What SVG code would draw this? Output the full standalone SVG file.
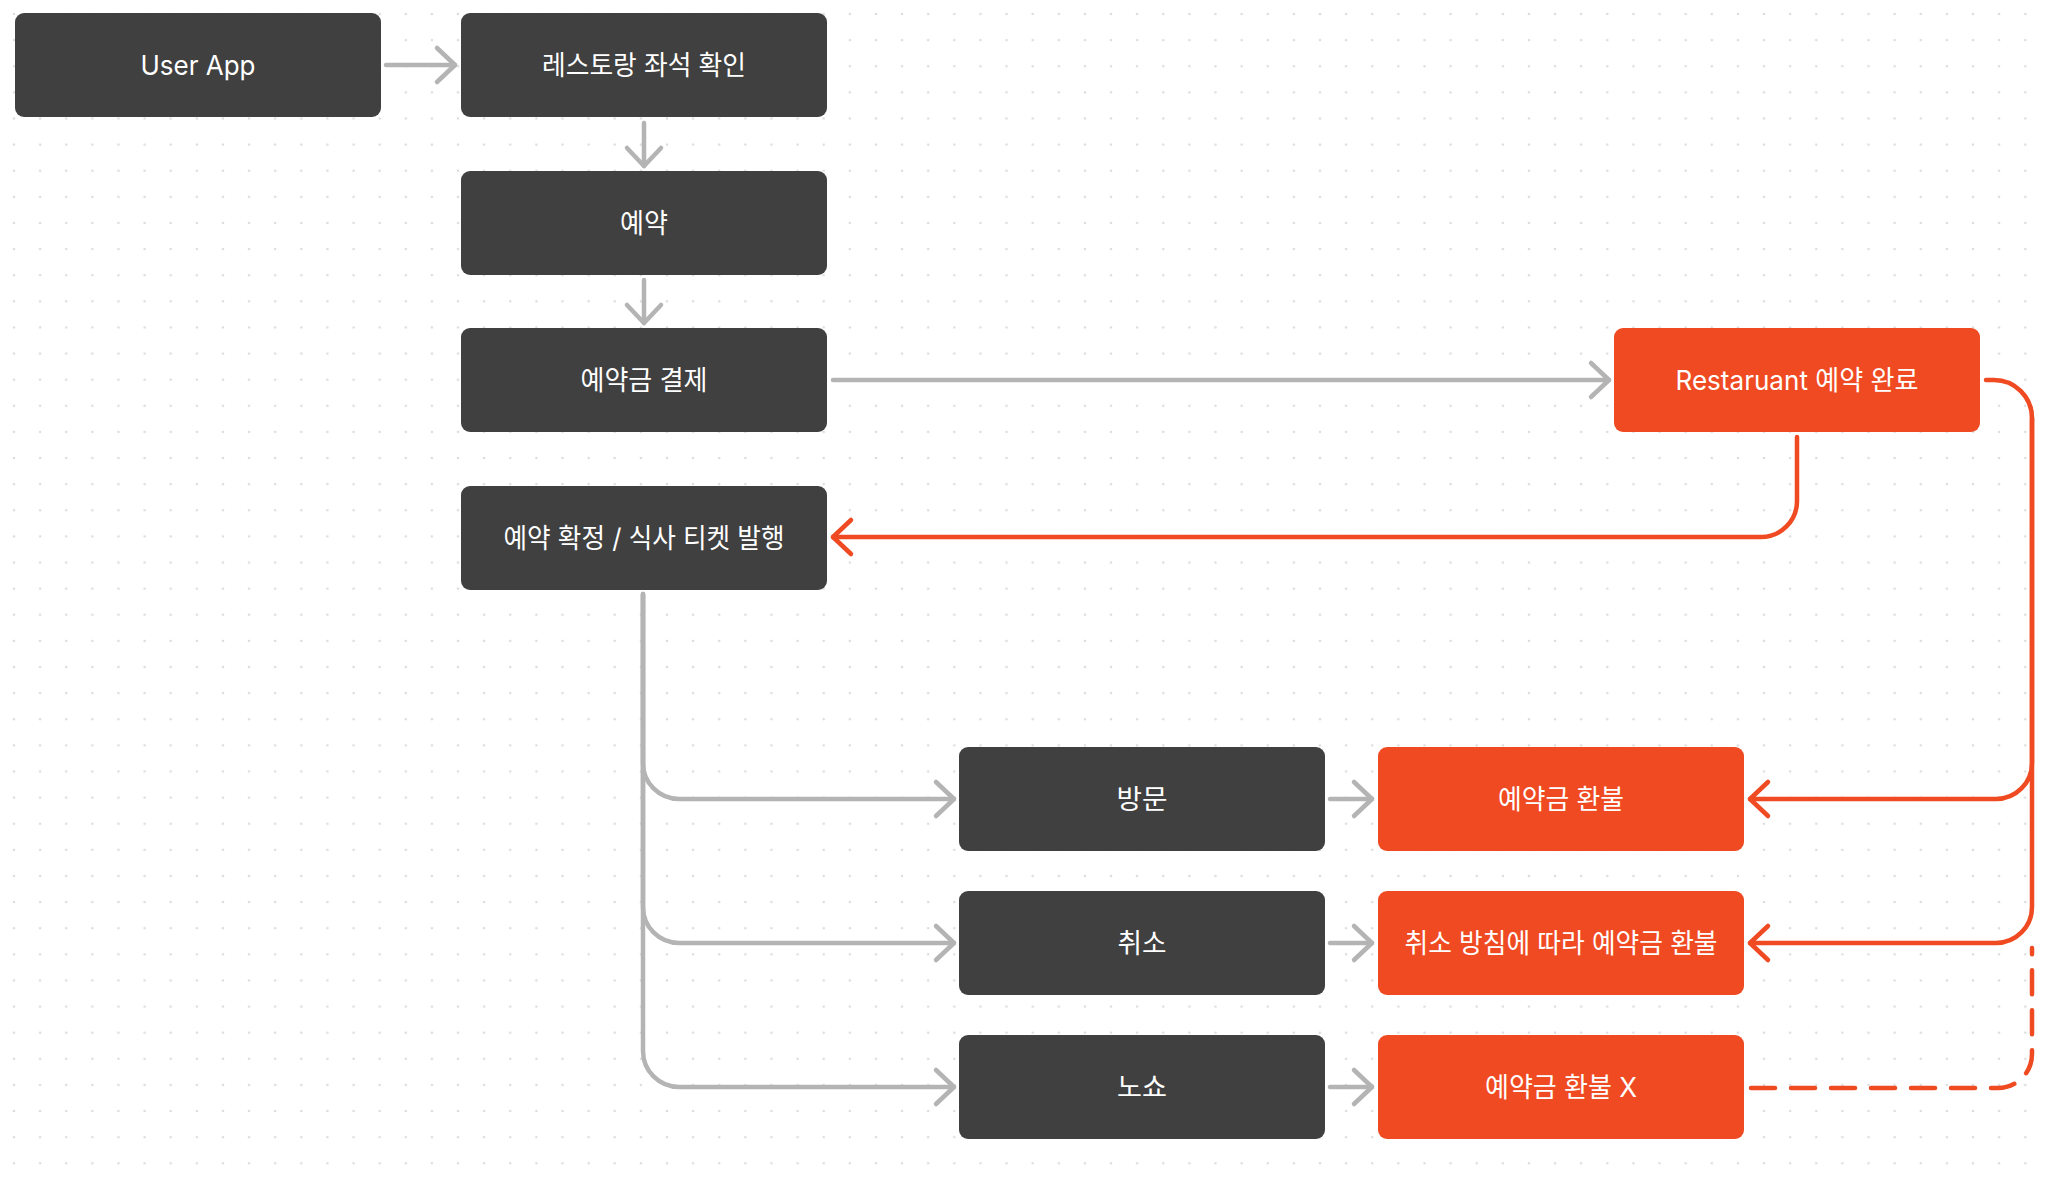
<svg xmlns="http://www.w3.org/2000/svg" width="2048" height="1183" viewBox="0 0 2048 1183">
  <defs>
    <pattern id="dots" x="14" y="14" width="26.12" height="26.12" patternUnits="userSpaceOnUse">
      <circle cx="0" cy="0" r="1.3" fill="#dcdcdc"/>
      <circle cx="26.12" cy="0" r="1.3" fill="#dcdcdc"/>
      <circle cx="0" cy="26.12" r="1.3" fill="#dcdcdc"/>
      <circle cx="26.12" cy="26.12" r="1.3" fill="#dcdcdc"/>
    </pattern>
    <marker id="arrGray" markerUnits="userSpaceOnUse" markerWidth="40" markerHeight="44" viewBox="-22 -22 26 44" refX="0" refY="0" orient="auto">
      <path d="M-18,-17 L0,0 L-18,17" fill="none" stroke="#b4b4b4" stroke-width="4.5" stroke-linecap="round" stroke-linejoin="round"/>
    </marker>
    <marker id="arrRed" markerUnits="userSpaceOnUse" markerWidth="40" markerHeight="44" viewBox="-22 -22 26 44" refX="0" refY="0" orient="auto">
      <path d="M-18,-17 L0,0 L-18,17" fill="none" stroke="#f04a22" stroke-width="4.5" stroke-linecap="round" stroke-linejoin="round"/>
    </marker>
  </defs>
  <style>
    .dark { fill: #404040; }
    .accent { fill: #f04a22; }
    .label { font-family: "Inter", "Noto Sans CJK KR", sans-serif; font-size: 27px; fill: #ffffff; text-anchor: middle; }
    .gray { fill: none; stroke: #b4b4b4; stroke-width: 4.5; stroke-linecap: round; stroke-linejoin: round; }
    .red { fill: none; stroke: #f04a22; stroke-width: 4.5; stroke-linecap: round; stroke-linejoin: round; }
    .dash { stroke-dasharray: 24 16; }
  </style>
  <rect width="2048" height="1183" fill="#ffffff"/>
  <rect width="2048" height="1183" fill="url(#dots)"/>

  <g id="connectors">
    <path class="gray" d="M386,65 H455" marker-end="url(#arrGray)"/>
    <path class="gray" d="M644,123 V166" marker-end="url(#arrGray)"/>
    <path class="gray" d="M644,280 V323" marker-end="url(#arrGray)"/>
    <path class="gray" d="M833,380 H1609" marker-end="url(#arrGray)"/>
    <path class="red" d="M1797,437 V501 A36,36 0 0 1 1761,537 H833" marker-end="url(#arrRed)"/>
    <path class="gray" d="M643,594 V763 A36,36 0 0 0 679,799 H954" marker-end="url(#arrGray)"/>
    <path class="gray" d="M643,594 V907 A36,36 0 0 0 679,943 H954" marker-end="url(#arrGray)"/>
    <path class="gray" d="M643,594 V1051 A36,36 0 0 0 679,1087 H954" marker-end="url(#arrGray)"/>
    <path class="gray" d="M1330,799 H1372" marker-end="url(#arrGray)"/>
    <path class="gray" d="M1330,943 H1372" marker-end="url(#arrGray)"/>
    <path class="gray" d="M1330,1087 H1372" marker-end="url(#arrGray)"/>
    <path class="red" d="M1986,380 H1994 A38,38 0 0 1 2032,418 V763 A36,36 0 0 1 1996,799 H1750" marker-end="url(#arrRed)"/>
    <path class="red" d="M2032,418 V907 A36,36 0 0 1 1996,943 H1750" marker-end="url(#arrRed)"/>
    <path class="red dash" d="M1751,1088 H1998 A34,34 0 0 0 2032,1054 V948"/>
  </g>

  <g id="node-user-app">
    <rect class="dark" x="15" y="13" width="366" height="104" rx="9"/>
    <text class="label" x="198" y="75" textLength="115" lengthAdjust="spacingAndGlyphs">User App</text>
  </g>
  <g id="node-seat-check">
    <rect class="dark" x="461" y="13" width="366" height="104" rx="9"/>
    <text class="label" x="644" y="75" textLength="204" lengthAdjust="spacingAndGlyphs">레스토랑 좌석 확인</text>
  </g>
  <g id="node-reserve">
    <rect class="dark" x="461" y="171" width="366" height="104" rx="9"/>
    <text class="label" x="644" y="233" textLength="48" lengthAdjust="spacingAndGlyphs">예약</text>
  </g>
  <g id="node-payment">
    <rect class="dark" x="461" y="328" width="366" height="104" rx="9"/>
    <text class="label" x="644" y="390" textLength="127" lengthAdjust="spacingAndGlyphs">예약금 결제</text>
  </g>
  <g id="node-confirm">
    <rect class="dark" x="461" y="486" width="366" height="104" rx="9"/>
    <text class="label" x="644" y="548" textLength="281" lengthAdjust="spacingAndGlyphs">예약 확정 / 식사 티켓 발행</text>
  </g>
  <g id="node-restaurant-done">
    <rect class="accent" x="1614" y="328" width="366" height="104" rx="9"/>
    <text class="label" x="1797" y="390" textLength="243" lengthAdjust="spacingAndGlyphs">Restaruant 예약 완료</text>
  </g>
  <g id="node-visit">
    <rect class="dark" x="959" y="747" width="366" height="104" rx="9"/>
    <text class="label" x="1142" y="809" textLength="51" lengthAdjust="spacingAndGlyphs">방문</text>
  </g>
  <g id="node-refund">
    <rect class="accent" x="1378" y="747" width="366" height="104" rx="9"/>
    <text class="label" x="1561" y="809" textLength="126" lengthAdjust="spacingAndGlyphs">예약금 환불</text>
  </g>
  <g id="node-cancel">
    <rect class="dark" x="959" y="891" width="366" height="104" rx="9"/>
    <text class="label" x="1142" y="953" textLength="49" lengthAdjust="spacingAndGlyphs">취소</text>
  </g>
  <g id="node-policy-refund">
    <rect class="accent" x="1378" y="891" width="366" height="104" rx="9"/>
    <text class="label" x="1561" y="953" textLength="313" lengthAdjust="spacingAndGlyphs">취소 방침에 따라 예약금 환불</text>
  </g>
  <g id="node-noshow">
    <rect class="dark" x="959" y="1035" width="366" height="104" rx="9"/>
    <text class="label" x="1142" y="1097" textLength="50" lengthAdjust="spacingAndGlyphs">노쇼</text>
  </g>
  <g id="node-no-refund">
    <rect class="accent" x="1378" y="1035" width="366" height="104" rx="9"/>
    <text class="label" x="1561" y="1097" textLength="152" lengthAdjust="spacingAndGlyphs">예약금 환불 X</text>
  </g>
</svg>
